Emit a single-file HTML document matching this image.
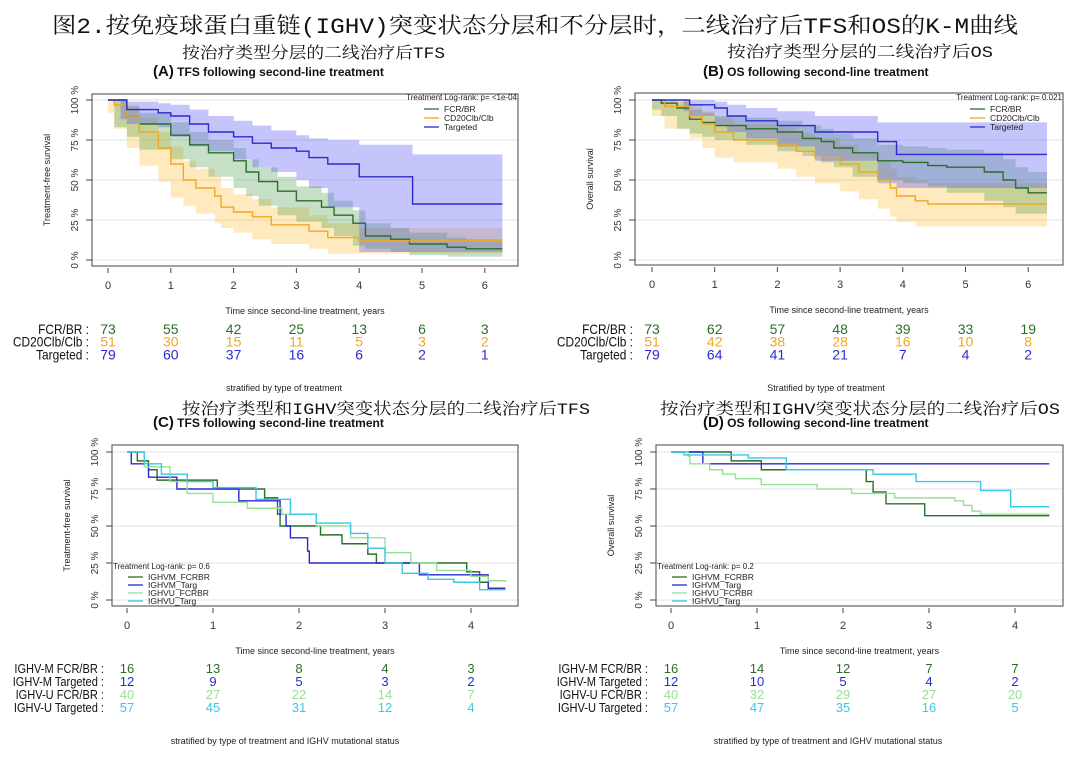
<!DOCTYPE html>
<html><head><meta charset="utf-8">
<style>
body{margin:0;background:#fff;width:1080px;height:759px;overflow:hidden;}
svg{display:block;font-family:"Liberation Sans",Arial,sans-serif;}
.cn{font-family:"Liberation Mono","Noto Serif CJK SC",serif;}
</style></head>
<body>
<svg id="fig" width="1080" height="759" viewBox="0 0 1080 759" xmlns="http://www.w3.org/2000/svg">
<text class="cn" x="52" y="33" font-size="22" fill="#111" textLength="966" lengthAdjust="spacingAndGlyphs">图2.按免疫球蛋白重链(IGHV)突变状态分层和不分层时，二线治疗后TFS和OS的K-M曲线</text>
<text class="cn" x="182" y="58" font-size="16" fill="#111" textLength="263" lengthAdjust="spacingAndGlyphs">按治疗类型分层的二线治疗后TFS</text>
<text class="cn" x="727" y="57" font-size="16" fill="#111" textLength="266" lengthAdjust="spacingAndGlyphs">按治疗类型分层的二线治疗后OS</text>
<text class="cn" x="182" y="414" font-size="16" fill="#111" textLength="408" lengthAdjust="spacingAndGlyphs">按治疗类型和IGHV突变状态分层的二线治疗后TFS</text>
<text class="cn" x="660" y="414" font-size="16" fill="#111" textLength="400" lengthAdjust="spacingAndGlyphs">按治疗类型和IGHV突变状态分层的二线治疗后OS</text>
<g font-weight="bold" fill="#111">
<text x="153" y="76" font-size="12"><tspan font-size="15">(A)</tspan> TFS following second-line treatment</text>
<text x="703" y="76" font-size="12"><tspan font-size="15">(B)</tspan> OS following second-line treatment</text>
<text x="153" y="427" font-size="12"><tspan font-size="15">(C)</tspan> TFS following second-line treatment</text>
<text x="703" y="427" font-size="12"><tspan font-size="15">(D)</tspan> OS following second-line treatment</text>
</g>
</svg>
<script>
// ---- Panel A data (TFS by treatment) ----
const aFcrT=[0,0.1,0.3,0.5,1.0,1.3,1.6,2.0,2.2,2.4,2.7,3.0,3.4,3.6,3.9,4.1,4.5,4.8,5.4,5.7,6.28];
const aFcrS=[100,100,90,85,78,72,67,62,55,49,43,37,33,28,23,15,13,10,8,7,7];
const aFcrLo=[100,100,83,77,69,63,58,52,45,40,34,28,24,20,15,9,7,5,3,2,2];
const aFcrHi=[100,100,96,92,86,80,75,70,63,58,52,46,42,37,31,23,20,17,14,13,13];
const aCdT=[0,0.1,0.3,0.5,0.8,1.0,1.2,1.4,1.7,1.8,2.0,2.3,2.6,3.2,3.5,4.0,6.28];
const aCdS=[100,97,90,80,70,60,50,45,40,33,30,27,22,18,14,12,12];
const aCdLo=[100,92,82,70,59,49,39,34,29,23,20,17,13,10,7,4,4];
const aCdHi=[100,100,97,89,80,71,62,57,52,45,41,38,33,28,23,20,20];
const aTgT=[0,0.2,0.3,0.8,1.0,1.3,1.6,2.0,2.3,2.6,3.0,3.2,3.5,4.0,4.85,6.28];
const aTgS=[100,100,94,92,90,85,80,77,73,70,68,64,60,52,35,35];
const aTgLo=[100,100,88,85,83,77,71,68,63,58,55,50,45,33,5,5];
const aTgHi=[100,100,99,98,97,94,90,87,84,81,78,76,75,72,66,66];
// ---- Panel B data (OS by treatment) ----
const bFcrT=[0,0.15,0.4,0.6,0.8,1.0,1.5,2.0,2.4,2.7,2.9,3.2,3.6,4.0,4.4,4.7,5.3,5.6,5.8,6.0,6.3];
const bFcrS=[100,98,95,88,86,84,82,80,76,74,70,67,62,61,59,58,55,50,45,42,42];
const bFcrLo=[100,94,90,82,79,77,75,72,68,65,61,58,52,50,48,46,42,37,33,29,29];
const bFcrHi=[100,100,99,94,92,90,89,87,84,82,79,76,72,71,70,69,67,63,58,55,55];
const bCdT=[0,0.2,0.6,0.8,1.0,1.3,2.0,2.3,2.6,3.0,3.3,3.6,3.8,3.9,4.2,4.4,6.3];
const bCdS=[100,96,90,85,80,75,72,68,64,60,55,50,45,40,37,35,35];
const bCdLo=[100,90,82,76,70,64,61,57,52,48,43,38,32,27,24,21,21];
const bCdHi=[100,100,97,93,89,85,83,79,76,72,67,62,57,52,50,48,48];
const bTgT=[0,0.5,0.6,1.0,1.2,1.5,2.0,2.6,3.6,3.9,6.3];
const bTgS=[100,100,97,95,90,87,84,80,74,66,66];
const bTgLo=[100,100,93,90,84,80,76,71,62,48,45];
const bTgHi=[100,100,100,99,97,95,93,90,86,86,86];
// ---- Panel C data (TFS by treatment & IGHV) ----
const cMfT=[0,0.12,0.25,0.35,1.05,1.6,1.75,1.78,2.25,2.5,2.8,2.9,3.95,4.1,4.2,4.4];
const cMfS=[100,94,88,81,75,69,58,50,44,38,31,25,19,12,8,8];
const cMtT=[0,0.05,0.25,0.58,1.3,1.78,1.85,1.9,2.1,2.12,3.4,4.2,4.4];
const cMtS=[100,92,83,75,67,58,50,42,33,25,17,8,8];
const cUfT=[0,0.2,0.5,0.7,1.0,1.4,1.8,2.2,2.6,3.0,3.3,3.6,4.0,4.2,4.4];
const cUfS=[100,90,80,72,66,62,58,50,42,32,25,20,16,13,12];
const cUtT=[0,0.2,0.4,0.7,1.0,1.5,1.9,2.2,2.6,2.8,3.0,3.2,3.5,3.8,4.1,4.4];
const cUtS=[100,92,85,80,76,68,58,52,45,35,25,18,14,12,7,7];
// ---- Panel D data (OS by treatment & IGHV) ----
const dMfT=[0,0.7,1.05,2.27,2.35,2.5,2.95,4.4];
const dMfS=[100,94,88,80,73,65,57,57];
const dMtT=[0,0.37,4.4];
const dMtS=[100,92,92];
const dUfT=[0,0.2,0.22,0.45,0.6,0.75,1.05,1.7,2.1,2.6,3.3,3.4,3.5,3.6,4.4];
const dUfS=[100,97,92,88,85,82,78,75,72,69,67,64,60,58,58];
const dUtT=[0,0.15,0.9,1.34,2.35,2.85,3.6,3.95,4.4];
const dUtS=[100,98,96,88,85,80,74,63,63];
// ---- Risk tables ----
const riskLabelsAB=["FCR/BR","CD20Clb/Clb","Targeted"];
const riskA=[[73,55,42,25,13,6,3],[51,30,15,11,5,3,2],[79,60,37,16,6,2,1]];
const riskB=[[73,62,57,48,39,33,19],[51,42,38,28,16,10,8],[79,64,41,21,7,4,2]];
const riskLabelsCD=["IGHV-M FCR/BR","IGHV-M Targeted","IGHV-U FCR/BR","IGHV-U Targeted"];
const riskC=[[16,13,8,4,3],[12,9,5,3,2],[40,27,22,14,7],[57,45,31,12,4]];
const riskD=[[16,14,12,7,7],[12,10,5,4,2],[40,32,29,27,20],[57,47,35,16,5]];
const yTickLabels=["0 %","25 %","50 %","75 %","100 %"];
const yTickVals=[0,25,50,75,100];

const GREEN="#2b6e2b",ORANGE="#f0a820",BLUE="#2a2ad0",LGREEN="#98e098",CYAN="#38c8e8";
const NS="http://www.w3.org/2000/svg";
const svg=document.getElementById('fig');
function mk(tag,attrs,parent){const e=document.createElementNS(NS,tag);for(const k in attrs)e.setAttribute(k,attrs[k]);(parent||svg).appendChild(e);return e;}

function panel(c){
  const g=mk('g',{});
  
  
  const X=t=>c.x0+t*c.ppy, Y=s=>c.y0-(c.y0-c.y100)*s/100;
  yTickVals.forEach(v=>{const l=mk('line',{x1:c.l,x2:c.r,y1:Y(v),y2:Y(v),stroke:'#e2e2e2','stroke-width':1},g);
    
    });
  c.bands.forEach(b=>{
    let d='M'+X(b.t[0])+','+Y(b.hi[0]);
    for(let i=1;i<b.t.length;i++){d+=' H'+X(b.t[i])+' V'+Y(b.hi[i]);}
    for(let i=b.t.length-1;i>0;i--){d+=' V'+Y(b.lo[i])+' H'+X(b.t[i-1]);}
    d+=' V'+Y(b.lo[0])+' Z';
    const p=mk('path',{d:d,fill:b.fill,stroke:'none'},g);
    
    
  });
  c.series.forEach(s=>{
    let d='M'+X(s.t[0])+','+Y(s.s[0]);
    for(let i=1;i<s.t.length;i++){d+=' H'+X(s.t[i])+' V'+Y(s.s[i]);}
    const p=mk('path',{d:d,fill:'none',stroke:s.color,'stroke-width':1.4},g);
    
    
  });
  const bx=mk('rect',{x:c.l,y:c.t,width:c.r-c.l,height:c.b-c.t,fill:'none',stroke:'#444','stroke-width':1},g);
  
  
  yTickVals.forEach((v,i)=>{
    mk('line',{x1:c.l-6,x2:c.l,y1:Y(v),y2:Y(v),stroke:'#444'},g);
    const tx=mk('text',{x:c.l-14,y:Y(v),'font-size':10,fill:'#333','text-anchor':'middle',transform:'rotate(-90 '+(c.l-14)+' '+Y(v)+')'},g);
    tx.textContent=yTickLabels[i];
    
    
  });
  const yt=mk('text',{x:c.l-42,y:(c.t+c.b)/2,'font-size':9,fill:'#222','text-anchor':'middle',transform:'rotate(-90 '+(c.l-42)+' '+(c.t+c.b)/2+')'},g);
  yt.textContent=c.ytitle;
  
  
  for(let k=0;k<=c.maxT;k++){
    mk('line',{x1:X(k),x2:X(k),y1:c.b+2,y2:c.b+7,stroke:'#444'},g);
    const tx=mk('text',{x:X(k),y:c.b+23,'font-size':11,fill:'#333','text-anchor':'middle'},g);
    tx.textContent=k;
    
    
  }
  const xt=mk('text',{x:(c.l+c.r)/2,y:c.b+48,'font-size':9,fill:'#222','text-anchor':'middle'},g);
  xt.textContent='Time since second-line treatment, years';
  
  
  const lg=mk('g',{},g);
  
  
  const lh=mk('text',{x:c.leg.hx,y:c.leg.hy,'font-size':8,fill:'#222','text-anchor':c.leg.anchor},lg);
  lh.textContent=c.leg.head;
  c.series.forEach((s,i)=>{
    const y=c.leg.y0+i*c.leg.dy;
    mk('line',{x1:c.leg.lx,x2:c.leg.lx+15,y1:y,y2:y,stroke:s.color,'stroke-width':1.3},lg);
    const t=mk('text',{x:c.leg.lx+20,y:y+3,'font-size':8.5,fill:'#222'},lg);
    t.textContent=s.name;
    
    
  });
  const rt=mk('g',{},g);
  
  
  c.risk.forEach((row,i)=>{
    const y=c.riskY+i*c.riskDy;
    const lb=mk('text',{x:c.riskLX,y:y,'font-size':c.riskFS,fill:'#111','text-anchor':'end'},rt);
    lb.textContent=c.riskLabels[i]+' :';
    
    
    const w=lb.getComputedTextLength();
    if(w>0){lb.setAttribute('textLength',(w*0.85).toFixed(1));lb.setAttribute('lengthAdjust','spacingAndGlyphs');}
    row.forEach((n,k)=>{
      const t=mk('text',{x:X(k),y:y,'font-size':c.riskFS,fill:c.series[i].color,'text-anchor':'middle'},rt);
      t.textContent=n;
      
      
    });
  });
  const ft=mk('text',{x:c.footX,y:c.footY,'font-size':9,fill:'#222','text-anchor':'middle'},g);
  ft.textContent=c.foot;
  
  
}
const gF='rgba(70,150,70,0.30)',oF='rgba(252,196,70,0.35)',bF='rgba(90,90,245,0.35)';
panel({id:'panel-a',l:92,t:94,r:518,b:266,x0:108,ppy:62.8,y100:100,y0:260,maxT:6,ytitle:'Treatment-free survival',
 bands:[{t:aCdT,lo:aCdLo,hi:aCdHi,fill:oF},{t:aFcrT,lo:aFcrLo,hi:aFcrHi,fill:gF},{t:aTgT,lo:aTgLo,hi:aTgHi,fill:bF}],
 series:[{t:aFcrT,s:aFcrS,color:GREEN,name:'FCR/BR'},{t:aCdT,s:aCdS,color:ORANGE,name:'CD20Clb/Clb'},{t:aTgT,s:aTgS,color:BLUE,name:'Targeted'}],
 leg:{head:'Treatment  Log-rank: p= <1e-04',hx:517,hy:100,anchor:'end',lx:424,y0:109,dy:9},
 risk:riskA,riskLabels:riskLabelsAB,riskY:334,riskDy:12.7,riskLX:89,riskFS:14,foot:'stratified by type of treatment',footX:284,footY:391});
panel({id:'panel-b',l:635,t:93,r:1063,b:265,x0:652,ppy:62.7,y100:100,y0:260,maxT:6,ytitle:'Overall survival',
 bands:[{t:bCdT,lo:bCdLo,hi:bCdHi,fill:oF},{t:bFcrT,lo:bFcrLo,hi:bFcrHi,fill:gF},{t:bTgT,lo:bTgLo,hi:bTgHi,fill:bF}],
 series:[{t:bFcrT,s:bFcrS,color:GREEN,name:'FCR/BR'},{t:bCdT,s:bCdS,color:ORANGE,name:'CD20Clb/Clb'},{t:bTgT,s:bTgS,color:BLUE,name:'Targeted'}],
 leg:{head:'Treatment  Log-rank: p= 0.021',hx:1062,hy:100,anchor:'end',lx:970,y0:109,dy:9},
 risk:riskB,riskLabels:riskLabelsAB,riskY:334,riskDy:12.7,riskLX:633,riskFS:14,foot:'Stratified by type of treatment',footX:826,footY:391});
panel({id:'panel-c',l:112,t:445,r:518,b:606,x0:127,ppy:86,y100:452,y0:600,maxT:4,ytitle:'Treatment-free survival',
 bands:[],
 series:[{t:cMfT,s:cMfS,color:GREEN,name:'IGHVM_FCRBR'},{t:cMtT,s:cMtS,color:BLUE,name:'IGHVM_Targ'},{t:cUfT,s:cUfS,color:LGREEN,name:'IGHVU_FCRBR'},{t:cUtT,s:cUtS,color:CYAN,name:'IGHVU_Targ'}],
 leg:{head:'Treatment  Log-rank: p= 0.6',hx:113,hy:569,anchor:'start',lx:128,y0:577,dy:8},
 risk:riskC,riskLabels:riskLabelsCD,riskY:673,riskDy:13,riskLX:104,riskFS:13,foot:'stratified by type of treatment and IGHV mutational status',footX:285,footY:744});
panel({id:'panel-d',l:656,t:445,r:1063,b:606,x0:671,ppy:86,y100:452,y0:600,maxT:4,ytitle:'Overall survival',
 bands:[],
 series:[{t:dMfT,s:dMfS,color:GREEN,name:'IGHVM_FCRBR'},{t:dMtT,s:dMtS,color:BLUE,name:'IGHVM_Targ'},{t:dUfT,s:dUfS,color:LGREEN,name:'IGHVU_FCRBR'},{t:dUtT,s:dUtS,color:CYAN,name:'IGHVU_Targ'}],
 leg:{head:'Treatment  Log-rank: p= 0.2',hx:657,hy:569,anchor:'start',lx:672,y0:577,dy:8},
 risk:riskD,riskLabels:riskLabelsCD,riskY:673,riskDy:13,riskLX:648,riskFS:13,foot:'stratified by type of treatment and IGHV mutational status',footX:828,footY:744});
</script>
</body></html>
